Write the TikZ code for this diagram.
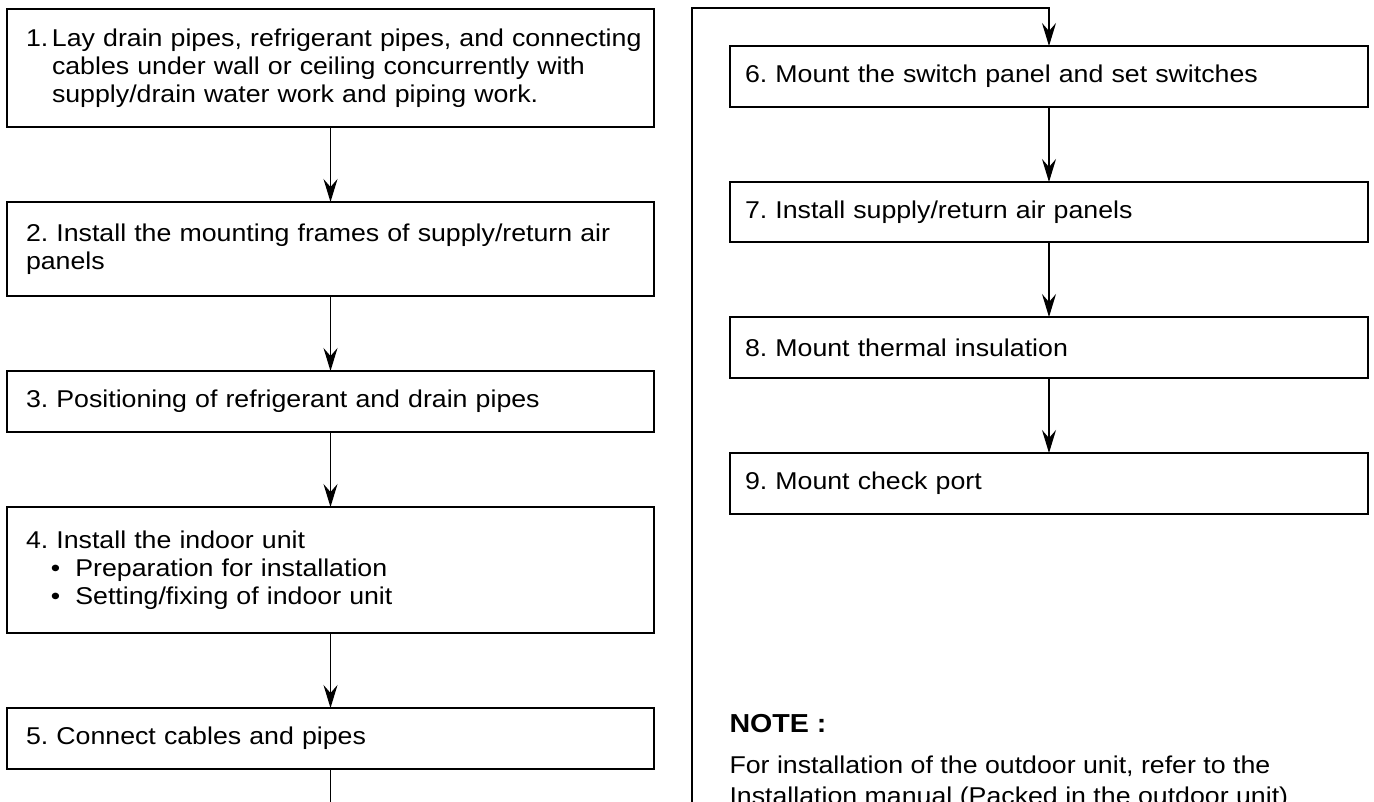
\documentclass[tikz,border=0pt]{standalone}
\usepackage{fontspec}
\setmainfont{Liberation Sans}[FakeStretch=1.1]
\usetikzlibrary{arrows.meta,positioning}
\tikzstyle{stepl} = [draw, line width=2.2pt, outer sep=0pt, minimum width=647pt, text width=609pt, inner xsep=19pt, inner ysep=0pt, align=left]
\tikzstyle{stepr} = [draw, line width=2.2pt, outer sep=0pt, minimum width=638pt, text width=608pt, inner xsep=15pt, inner ysep=0pt, align=left]
\tikzstyle{flow} = [line width=1.2pt, -{Stealth[length=23pt,width=14pt,inset=8pt]}]
\frenchspacing

\begin{document}
\begin{tikzpicture}[x=1pt, y=-1pt, node distance=75pt, font=\fontsize{24.3}{28}\selectfont]
      \useasboundingbox (0,0) rectangle (1374,801);
      \clip (0,0) rectangle (1374,801);
      \node[stepl, minimum height=118pt] (s1) at (330.5,68) {\mbox{\makebox[26pt][l]{1.}Lay drain pipes, refrigerant pipes, and connecting}\\ \hspace*{26pt}cables under wall or ceiling concurrently with\\ \hspace*{26pt}supply/drain water work and piping work.};
      \node[stepl, minimum height=94pt, below=of s1] (s2) {2. Install the mounting frames of supply/return air\\ panels};
      \node[stepl, minimum height=61pt, below=of s2] (s3) {3. Positioning of refrigerant and drain pipes};
      \node[stepl, minimum height=126pt, below=of s3] (s4) {4. Install the indoor unit\\ \hspace*{25pt}\textbullet\hspace{15pt}Preparation for installation\\ \hspace*{25pt}\textbullet\hspace{15pt}Setting/fixing of indoor unit};
      \node[stepl, minimum height=61pt, below=of s4] (s5) {5. Connect cables and pipes};
      \node[stepr, minimum height=61pt] (s6) at (1049,76.5) {6. Mount the switch panel and set switches};
      \node[stepr, minimum height=60pt, below=of s6] (s7) {7. Install supply/return air panels};
      \node[stepr, minimum height=61pt, below=of s7] (s8) {8. Mount thermal insulation};
      \node[stepr, minimum height=61pt, below=of s8] (s9) {9. Mount check port};
      \node[anchor=base west, font=\fontsize{26}{28}\selectfont\bfseries] (note) at (726,732) {NOTE :};
      \node[anchor=base west] (notea) at (726,773) {For installation of the outdoor unit, refer to the};
      \node[anchor=base west] (noteb) at (726,804) {Installation manual (Packed in the outdoor unit)};
      \coordinate (turn) at (692,8);
      \draw[flow] (s1) -- (s2);
      \draw[flow] (s2) -- (s3);
      \draw[flow] (s3) -- (s4);
      \draw[flow] (s4) -- (s5);
      \draw[flow] (s5.south) -- ++(0,50) -| (turn) -| (s6.north);
      \draw[flow] (s6) -- (s7);
      \draw[flow] (s7) -- (s8);
      \draw[flow] (s8) -- (s9);
\end{tikzpicture}
\end{document}
